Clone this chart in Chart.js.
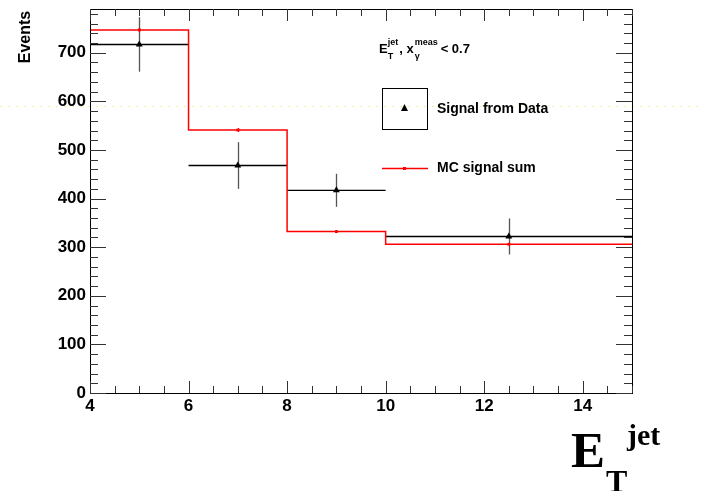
<!DOCTYPE html>
<html>
<head>
<meta charset="utf-8">
<script src="https://cdn.jsdelivr.net/npm/chart.js@4/dist/chart.umd.min.js"></script>
<style>
  html, body { margin: 0; padding: 0; background: #fff; }
  #wrap { width: 702px; height: 491px; }
</style>
</head>
<body>
<div id="wrap"><canvas id="plot" width="702" height="491"></canvas></div>
<script>
// bins of E_T^jet
const binLow = [4, 6, 8, 10];
const binHigh = [6, 8, 10, 15];
const binCenter = [5, 7, 9, 12.5];
// signal from data
const dataVals = [717, 468, 417, 322];
const dataErr = [56, 48, 34, 37];
// MC signal sum
const mcVals = [747, 541, 332, 306];
const mcErr = [4, 4, 3, 3];
// stray dotted line left in the picture
const strayLevel = 591;
const yTickLabels = [0, 100, 200, 300, 400, 500, 600, 700];
const xTickLabels = [4, 6, 8, 10, 12, 14];

// histogram outline for MC (stepped)
const mcSteps = [];
for (let i = 0; i < binLow.length; i++) mcSteps.push({x: binLow[i], y: mcVals[i]});
mcSteps.push({x: binHigh[binHigh.length - 1], y: mcVals[mcVals.length - 1]});

// horizontal bars for data, broken between bins
const dataBars = [];
for (let i = 0; i < binLow.length; i++) {
    dataBars.push({x: binLow[i], y: dataVals[i]});
    dataBars.push({x: binHigh[i], y: dataVals[i]});
    dataBars.push({x: binHigh[i], y: null});
}

const SANS = '"Liberation Sans", Arial, sans-serif';
const SERIF = '"Liberation Serif", "Times New Roman", serif';

const rootFrame = {
    id: 'rootFrame',
    beforeDatasetsDraw(chart) {
        const ctx = chart.ctx;
        const x = chart.scales.x, y = chart.scales.y;
        ctx.save();
        // faint yellow dotted line across the page
        ctx.strokeStyle = 'rgba(235,235,120,0.7)';
        ctx.lineWidth = 1;
        ctx.setLineDash([2, 6]);
        const py = Math.round(y.getPixelForValue(strayLevel)) + 0.5;
        ctx.beginPath();
        ctx.moveTo(0, py);
        ctx.lineTo(chart.width, py);
        ctx.stroke();
        ctx.setLineDash([]);
        // error bars
        ctx.lineWidth = 1.3;
        ctx.strokeStyle = '#555';
        for (let i = 0; i < binCenter.length; i++) {
            const px = Math.round(x.getPixelForValue(binCenter[i])) + 0.5;
            ctx.beginPath();
            ctx.moveTo(px, y.getPixelForValue(dataVals[i] + dataErr[i]));
            ctx.lineTo(px, y.getPixelForValue(dataVals[i] - dataErr[i]));
            ctx.stroke();
        }
        ctx.strokeStyle = 'red';
        for (let i = 0; i < binCenter.length; i++) {
            const px = Math.round(x.getPixelForValue(binCenter[i])) + 0.5;
            ctx.beginPath();
            ctx.moveTo(px, y.getPixelForValue(mcVals[i] + mcErr[i]));
            ctx.lineTo(px, y.getPixelForValue(mcVals[i] - mcErr[i]));
            ctx.stroke();
        }
        ctx.restore();
    },
    afterDatasetsDraw(chart) {
        const ctx = chart.ctx;
        const x = chart.scales.x, y = chart.scales.y;
        const a = chart.chartArea;
        ctx.save();
        // frame
        ctx.strokeStyle = '#000';
        ctx.lineWidth = 1;
        ctx.strokeRect(Math.round(a.left) + 0.5, Math.round(a.top) + 0.5,
            Math.round(a.right - a.left), Math.round(a.bottom - a.top));
        // y ticks, both sides
        ctx.strokeStyle = '#333';
        for (let v = 0; v <= 780; v += 20) {
            const py = Math.round(y.getPixelForValue(v)) + 0.5;
            const len = v % 100 === 0 ? 16 : 8;
            ctx.beginPath();
            ctx.moveTo(a.left, py); ctx.lineTo(a.left + len, py);
            ctx.moveTo(a.right, py); ctx.lineTo(a.right - len, py);
            ctx.stroke();
        }
        // x ticks, bottom and top
        for (let v = 4; v <= 15; v += 0.5) {
            const px = Math.round(x.getPixelForValue(v)) + 0.5;
            const len = v % 2 === 0 ? 12 : 7;
            ctx.beginPath();
            ctx.moveTo(px, a.bottom); ctx.lineTo(px, a.bottom - len);
            ctx.moveTo(px, a.top); ctx.lineTo(px, a.top + len);
            ctx.stroke();
        }
        ctx.restore();
    },
    afterDraw(chart) {
        const ctx = chart.ctx;
        ctx.save();
        ctx.fillStyle = '#000';
        ctx.textBaseline = 'alphabetic';

        // y title
        ctx.save();
        ctx.translate(30, 37);
        ctx.rotate(-Math.PI / 2);
        ctx.font = 'bold 16px ' + SANS;
        ctx.textAlign = 'center';
        ctx.fillText('Events', 0, 0);
        ctx.restore();

        // x title E_T^jet
        ctx.textAlign = 'left';
        ctx.font = 'bold 51px ' + SERIF;
        ctx.fillText('E', 571, 467);
        ctx.font = 'bold 32px ' + SERIF;
        ctx.fillText('T', 606, 492);
        ctx.font = 'bold 30px ' + SERIF;
        ctx.fillText('jet', 627, 445);

        // selection label
        let tx = 379;
        ctx.font = 'bold 13px ' + SANS;
        ctx.fillText('E', tx, 53);
        tx += ctx.measureText('E').width;
        ctx.font = 'bold 9px ' + SANS;
        ctx.fillText('T', tx, 59);
        ctx.fillText('jet', tx, 45);
        tx += ctx.measureText('jet').width + 1;
        ctx.font = 'bold 13px ' + SANS;
        ctx.fillText(', x', tx, 53);
        tx += ctx.measureText(', x').width + 1;
        ctx.font = 'bold 9px ' + SANS;
        ctx.fillText('\u03b3', tx, 59);
        ctx.fillText('meas', tx, 45);
        tx += ctx.measureText('meas').width + 3;
        ctx.font = 'bold 13px ' + SANS;
        ctx.fillText('< 0.7', tx, 53);

        // legend
        ctx.strokeStyle = '#000';
        ctx.lineWidth = 1;
        ctx.strokeRect(382.5, 88.5, 45, 41);
        ctx.beginPath();
        ctx.moveTo(404.5, 104); ctx.lineTo(408, 111); ctx.lineTo(401, 111);
        ctx.closePath();
        ctx.fill();
        ctx.strokeStyle = 'red';
        ctx.lineWidth = 1.3;
        ctx.beginPath();
        ctx.moveTo(382, 168.5); ctx.lineTo(428, 168.5);
        ctx.stroke();
        ctx.fillStyle = 'red';
        ctx.fillRect(403, 167, 3, 3);
        ctx.fillStyle = '#000';
        ctx.font = 'bold 14px ' + SANS;
        ctx.textBaseline = 'middle';
        ctx.fillText('Signal from Data', 437, 109);
        ctx.fillText('MC signal sum', 437, 168);
        ctx.restore();
    }
};

new Chart(document.getElementById('plot'), {
    type: 'line',
    data: {
        datasets: [
            {
                label: 'MC signal sum',
                data: mcSteps,
                stepped: 'before',
                borderColor: 'red',
                borderWidth: 1.5,
                pointRadius: 0,
                fill: false
            },
            {
                label: 'MC points',
                data: binCenter.map((c, i) => ({x: c, y: mcVals[i]})),
                showLine: false,
                pointStyle: 'rect',
                pointRadius: 2,
                backgroundColor: 'red',
                borderColor: 'red',
                borderWidth: 0
            },
            {
                label: 'Data bins',
                data: dataBars,
                borderColor: '#000',
                borderWidth: 1.3,
                pointRadius: 0,
                spanGaps: false,
                fill: false
            },
            {
                label: 'Signal from Data',
                data: binCenter.map((c, i) => ({x: c, y: dataVals[i]})),
                showLine: false,
                pointStyle: 'triangle',
                pointRadius: 4,
                backgroundColor: '#000',
                borderColor: '#000',
                borderWidth: 0
            }
        ]
    },
    options: {
        responsive: false,
        animation: false,
        devicePixelRatio: 1,
        layout: { padding: { top: 9, right: 70, left: 0, bottom: 0 } },
        plugins: { legend: { display: false }, tooltip: { enabled: false } },
        scales: {
            x: {
                type: 'linear',
                min: 4,
                max: 15,
                grid: { display: false, drawTicks: false },
                border: { display: false },
                afterFit(scale) {
                    scale.height = 98;
                    scale.paddingLeft = 0;
                    scale.paddingRight = 0;
                },
                afterBuildTicks(scale) {
                    scale.ticks = xTickLabels.map(v => ({value: v}));
                },
                ticks: {
                    padding: 3,
                    color: '#000',
                    font: { family: SANS, size: 17, weight: 'bold' },
                    maxRotation: 0
                }
            },
            y: {
                type: 'linear',
                min: 0,
                max: 790,
                grid: { display: false, drawTicks: false },
                border: { display: false },
                afterFit(scale) {
                    scale.width = 90;
                    scale.paddingTop = 0;
                    scale.paddingBottom = 0;
                },
                afterBuildTicks(scale) {
                    scale.ticks = yTickLabels.map(v => ({value: v}));
                },
                ticks: {
                    padding: 4,
                    color: '#000',
                    font: { family: SANS, size: 17, weight: 'bold' }
                }
            }
        }
    },
    plugins: [rootFrame]
});
</script>
</body>
</html>
